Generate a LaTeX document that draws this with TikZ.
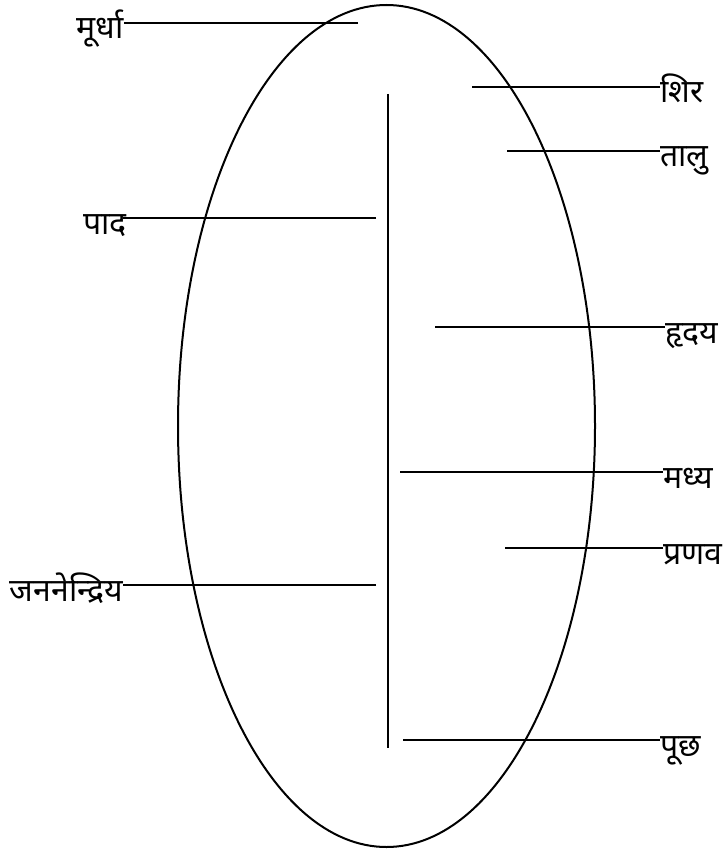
\documentclass[tikz,border=0pt]{standalone}
\usepackage{fontspec}
\newfontfamily\devfont[Script=Devanagari]{Noto Sans}
\usetikzlibrary{positioning, calc}

\begin{document}
\begin{tikzpicture}[
        x=1pt, y=-1pt,
        lbl/.style = {inner sep=0pt, font=\devfont\fontsize{32}{38}\selectfont},
        rlbl/.style = {lbl, anchor=base west},
        llbl/.style = {lbl, anchor=base east},
        leader/.style = {line width=2pt},
        shell/.style = {line width=2pt}
      ]
      \useasboundingbox (0,0) rectangle (723,853);

      % ================= ELLIPSE + AXIS =================
      \draw[shell] (386.5,426) ellipse [x radius=208.5, y radius=421];
      \coordinate (axis-top) at (388,94);
      \coordinate (axis-bot) at (388,748);
      \draw[shell] (axis-top) -- (axis-bot);

      % ================= LEFT LABELS =================
      \node[llbl] (murdha) at (124,39) {मूर्धा};
      \node[llbl] (pada) at (127,234) {पाद};
      \node[llbl] (janan) at (123,601) {जननेन्द्रिय};

      \coordinate (murdha-end) at (358,23);
      \coordinate (pada-end) at (376,218);
      \coordinate (janan-end) at (376,585);

      \draw[leader] (murdha-end) -- (murdha-end -| murdha.east);
      \draw[leader] (pada-end) -- ($(pada-end -| pada.east) - (4,0)$);
      \draw[leader] (janan-end) -- (janan-end -| janan.east);

      % ================= RIGHT LABELS =================
      \node[rlbl] (shira) at (660,103) {शिर};
      \node[rlbl] (talu) at (660,167) {तालु};
      \node[rlbl] (hridaya) at (665,343) {हृदय};
      \node[rlbl] (madhya) at (663,488) {मध्य};
      \node[rlbl] (pranava) at (663,564) {प्रणव};
      \node[rlbl] (poochh) at (660,756) {पूछ};

      \coordinate (shira-end) at (472,87);
      \coordinate (talu-end) at (507,151);
      \coordinate (hridaya-end) at (435,327);
      \coordinate (madhya-end) at (400,472);
      \coordinate (pranava-end) at (505,548);
      \coordinate (poochh-end) at (403,740);

      \foreach \n in {shira, talu, hridaya, madhya, pranava, poochh}
        \draw[leader] (\n-end) -- (\n-end -| \n.west);

    \end{tikzpicture}
\end{document}
